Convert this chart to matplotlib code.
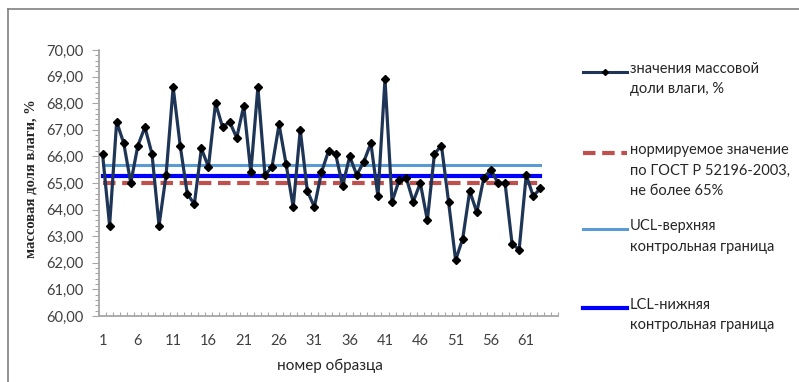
import matplotlib
matplotlib.use("Agg")
import matplotlib.pyplot as plt
from matplotlib.lines import Line2D
from matplotlib.ticker import MultipleLocator, FixedLocator, FuncFormatter

# ---- data ----
sample_no = list(range(1, 64))
moisture = [66.1, 63.4, 67.3, 66.5, 65.0, 66.4, 67.1, 66.1, 63.4, 65.3,
            68.6, 66.4, 64.6, 64.2, 66.3, 65.6, 68.0, 67.1, 67.3, 66.7,
            67.9, 65.4, 68.6, 65.3, 65.6, 67.2, 65.7, 64.1, 67.0, 64.7,
            64.1, 65.4, 66.2, 66.1, 64.9, 66.0, 65.3, 65.8, 66.5, 64.5,
            68.9, 64.3, 65.1, 65.2, 64.3, 65.0, 63.6, 66.1, 66.4, 64.3,
            62.1, 62.9, 64.7, 63.9, 65.2, 65.5, 65.0, 65.0, 62.7, 62.5,
            65.3, 64.5, 64.8]
norm_value = 65.0
ucl_value = 65.68
lcl_value = 65.25
x_tick_labels = [1, 6, 11, 16, 21, 26, 31, 36, 41, 46, 51, 56, 61]
legend_labels = ["значения массовой\nдоли влаги, %",
                 "нормируемое значение\nпо ГОСТ Р 52196-2003,\nне более 65%",
                 "UCL-верхняя\nконтрольная граница",
                 "LCL-нижняя\nконтрольная граница"]

W, H = 799, 382
fig = plt.figure(figsize=(W / 100, H / 100), dpi=100)
fig.patch.set_facecolor("white")

def fx(px):
    return px / W

def fy(py):
    return 1 - py / H

ax = fig.add_axes([fx(99), fy(316), fx(558) - fx(99), fy(50) - fy(316)])

c_series = "#1F3556"
c_norm = "#C0504D"
c_ucl = "#5B9BD5"
c_lcl = "#0000FF"

n = len(moisture)
ax.plot(sample_no, [norm_value] * n, color=c_norm, lw=3, ls=(0, (3, 1.6)), zorder=2)
ax.plot(sample_no, [ucl_value] * n, color=c_ucl, lw=2.2, zorder=2)
ax.plot(sample_no, [lcl_value] * n, color=c_lcl, lw=3, zorder=2)
ax.plot(sample_no, moisture, color=c_series, lw=2.3, marker="D", ms=4.5,
        mfc="black", mec="black", zorder=3)

ax.set_xlim(0.5, 65.5)
ax.set_ylim(60, 70)

for s in ["top", "right"]:
    ax.spines[s].set_visible(False)
for s in ["left", "bottom"]:
    ax.spines[s].set_color("#A6A6A6")
    ax.spines[s].set_linewidth(1.3)

tick_font = "Lato"
ax.xaxis.set_major_locator(FixedLocator(x_tick_labels))
ax.xaxis.set_minor_locator(MultipleLocator(1, offset=0.5))
ax.tick_params(axis="x", which="major", length=0, pad=13, labelsize=10.5, labelcolor="#404040")
ax.tick_params(axis="x", which="minor", length=3, direction="in", color="#A6A6A6", width=0.8)
for lab in ax.get_xticklabels():
    lab.set_fontfamily(tick_font)

ax.yaxis.set_major_locator(MultipleLocator(1))
ax.yaxis.set_minor_locator(MultipleLocator(0.2))
ax.yaxis.set_major_formatter(FuncFormatter(lambda v, p: f"{v:.2f}".replace(".", ",")))
ax.tick_params(axis="y", which="major", length=5, color="#A6A6A6", width=0.8, pad=6,
               labelsize=10.5, labelcolor="#404040")
ax.tick_params(axis="y", which="minor", length=3, color="#A6A6A6", width=0.8)
for lab in ax.get_yticklabels():
    lab.set_fontfamily(tick_font)

fig.text(fx(330), fy(366), "номер образца", ha="center", va="center",
         fontsize=11, family=tick_font, color="#262626")
fig.text(fx(31), fy(179), "массовая доля влаги, %", ha="center", va="center",
         rotation=90, fontsize=10.5, family="Liberation Serif", weight="bold", color="#262626")

# legend (manual)
entries = [
    (72, dict(color=c_series, lw=2.2, marker="D", ms=3, mfc="black", mec="black", markevery=[1])),
    (153, dict(color=c_norm, lw=3, ls=(0, (3, 1.6)))),
    (229, dict(color=c_ucl, lw=2.2)),
    (308, dict(color=c_lcl, lw=3)),
]
for (py, style), label in zip(entries, legend_labels):
    xs = [fx(583), fx(605), fx(627)]
    fig.add_artist(Line2D(xs, [fy(py)] * 3, transform=fig.transFigure, **style))
    fig.text(fx(630), fy(py) + 0.025, label, ha="left", va="top", fontsize=10.5,
             family=tick_font, color="#262626", linespacing=1.55)

# outer frame (left and top visible)
fig.add_artist(Line2D([fx(7.5), fx(7.5)], [0, fy(9)], transform=fig.transFigure,
                      color="#808080", lw=1.2))
fig.add_artist(Line2D([fx(7.5), 1], [fy(9), fy(9)], transform=fig.transFigure,
                      color="#808080", lw=1.2))

fig.savefig("out.png", dpi=100)
